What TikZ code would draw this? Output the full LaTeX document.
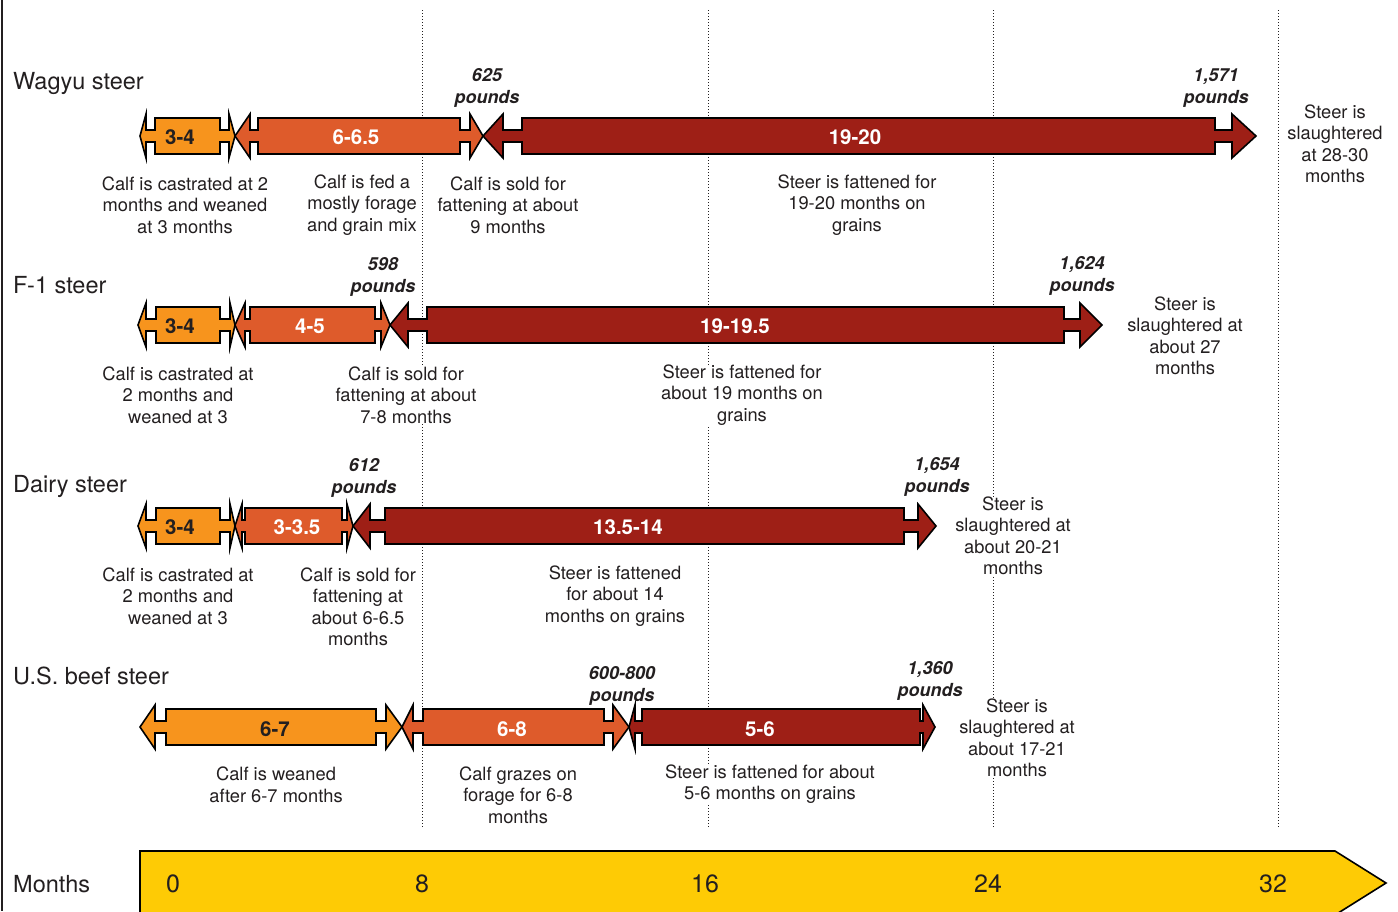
\documentclass[tikz,border=0pt]{standalone}
\usepackage{fontspec}
\setmainfont{TeX Gyre Heros}
\definecolor{ink}{HTML}{231F20}
\definecolor{calf}{HTML}{F7941D}
\definecolor{grow}{HTML}{DE5B2B}
\definecolor{feed}{HTML}{9E1F16}
\definecolor{sun}{HTML}{FECB05}
% one stage of a life line: tip, head base, body start, body end, head base, tip
\newcommand{\segarrow}[8]{%
  \draw[fill=#8, line width=1.6pt] (#2,#1) -- (#3,#1-22) -- (#3,#1-6) -- (#4,#1-6) -- (#4,#1-18) -- (#5,#1-18) -- (#5,#1-6) -- (#6,#1-6) -- (#6,#1-22) -- (#7,#1) -- (#6,#1+22) -- (#6,#1+6) -- (#5,#1+6) -- (#5,#1+18) -- (#4,#1+18) -- (#4,#1+6) -- (#3,#1+6) -- (#3,#1+22) -- cycle;}
\begin{document}
\begin{tikzpicture}[x=1pt,y=-1pt,
    desc/.style={align=center, inner sep=0pt, fill=white, text=ink, font=\fontsize{18.3}{21.5}\selectfont},
    wt/.style={align=center, inner sep=0pt, text=ink, font=\fontsize{18}{21.5}\selectfont\bfseries\itshape},
    breed/.style={anchor=west, inner sep=0pt, text=ink, font=\fontsize{23.5}{26}\selectfont},
    seglab/.style={inner sep=0pt, font=\fontsize{20.5}{22}\selectfont\bfseries},
    monthline/.style={dotted, line width=1pt, ink}]
    \useasboundingbox (0,0) rectangle (1398,911);
    \clip (0,0) rectangle (1398,911);

    \draw[line width=1.2pt, ink] (2,0) -- (2,911);
    \foreach \m in {422,708,993,1278}
        \draw[monthline] (\m,10) -- (\m,828);

    % Wagyu
    \node[breed] (wagyu) at (13,83) {Wagyu steer};
    \segarrow{136}{140}{146}{155}{220}{229}{235}{calf}
    \segarrow{136}{235}{250}{258}{460}{470}{483}{grow}
    \segarrow{136}{483}{503}{522}{1215}{1232}{1256}{feed}
    \node[seglab, text=ink] (w1) at (180,137) {3-4};
    \node[seglab, text=white] (w2) at (356,137) {6-6.5};
    \node[seglab, text=white] (w3) at (855,137) {19-20};
    \node[wt] (wkg1) at (487,88) {625\\pounds};
    \node[wt] (wkg2) at (1216,88) {1,571\\pounds};
    \node[desc] (wd1) at (185,205) {Calf is castrated at 2\\months and weaned\\at 3 months};
    \node[desc] (wd2) at (362,205) {Calf is fed a\\mostly forage\\and grain mix};
    \node[desc] (wd3) at (508,205) {Calf is sold for\\fattening at about\\9 months};
    \node[desc] (wd4) at (857,205) {Steer is fattened for\\19-20 months on\\grains};
    \node[desc] (wd5) at (1335,144) {Steer is\\slaughtered\\at 28-30\\months};

    % F-1
    \node[breed] (fone) at (13,285) {F-1 steer};
    \segarrow{325}{138}{146}{156}{220}{230}{235}{calf}
    \segarrow{325}{235}{245}{250}{375}{381}{390}{grow}
    \segarrow{325}{390}{408}{427}{1064}{1080}{1102}{feed}
    \node[seglab, text=ink] (f1) at (180,326) {3-4};
    \node[seglab, text=white] (f2) at (310,326) {4-5};
    \node[seglab, text=white] (f3) at (735,326) {19-19.5};
    \node[wt] (fkg1) at (383,277) {598\\pounds};
    \node[wt] (fkg2) at (1082,276) {1,624\\pounds};
    \node[desc] (fd1) at (178,395) {Calf is castrated at\\2 months and\\weaned at 3};
    \node[desc] (fd2) at (406,395) {Calf is sold for\\fattening at about\\7-8 months};
    \node[desc] (fd3) at (742,395) {Steer is fattened for\\about 19 months on\\grains};
    \node[desc] (fd4) at (1185,336) {Steer is\\slaughtered at\\about 27\\months};

    % Dairy
    \node[breed] (dairy) at (13,486) {Dairy steer};
    \segarrow{526}{138}{146}{156}{220}{230}{235}{calf}
    \segarrow{526}{235}{242}{245}{342}{347}{353}{grow}
    \segarrow{526}{353}{370}{385}{904}{918}{936}{feed}
    \node[seglab, text=ink] (d1) at (180,527) {3-4};
    \node[seglab, text=white] (d2) at (297,527) {3-3.5};
    \node[seglab, text=white] (d3) at (628,527) {13.5-14};
    \node[wt] (dkg1) at (364,478) {612\\pounds};
    \node[wt] (dkg2) at (937,477) {1,654\\pounds};
    \node[desc] (dd1) at (178,596) {Calf is castrated at\\2 months and\\weaned at 3};
    \node[desc] (dd2) at (358,607) {Calf is sold for\\fattening at\\about 6-6.5\\months};
    \node[desc] (dd3) at (615,596) {Steer is fattened\\for about 14\\months on grains};
    \node[desc] (dd4) at (1013,536) {Steer is\\slaughtered at\\about 20-21\\months};

    % U.S. beef
    \node[breed] (usbeef) at (13,676) {U.S. beef steer};
    \segarrow{727}{140}{155}{166}{376}{386}{402}{calf}
    \segarrow{727}{402}{413}{423}{604}{613}{629}{grow}
    \segarrow{727}{629}{635}{642}{920}{923}{935}{feed}
    \node[seglab, text=ink] (u1) at (275,729) {6-7};
    \node[seglab, text=white] (u2) at (512,729) {6-8};
    \node[seglab, text=white] (u3) at (760,729) {5-6};
    \node[wt] (ukg1) at (622,686) {600-800\\pounds};
    \node[wt] (ukg2) at (930,681) {1,360\\pounds};
    \node[desc] (ud1) at (276,785) {Calf is weaned\\after 6-7 months};
    \node[desc] (ud2) at (518,795) {Calf grazes on\\forage for 6-8\\months};
    \node[desc] (ud3) at (770,784) {Steer is fattened for about\\5-6 months on grains};
    \node[desc] (ud4) at (1017,738) {Steer is\\slaughtered at\\about 17-21\\months};

    % months axis
    \node[breed] (months) at (13,884) {Months};
    \draw[fill=sun, line width=1.6pt] (140,915) -- (140,851) -- (1335,851) -- (1386,883) -- (1335,915);
    \node[inner sep=0pt, text=ink, font=\fontsize{25}{27}\selectfont] (m0) at (173,884) {0};
    \node[inner sep=0pt, text=ink, font=\fontsize{25}{27}\selectfont] (m8) at (422,884) {8};
    \node[inner sep=0pt, text=ink, font=\fontsize{25}{27}\selectfont] (m16) at (705,884) {16};
    \node[inner sep=0pt, text=ink, font=\fontsize{25}{27}\selectfont] (m24) at (988,884) {24};
    \node[inner sep=0pt, text=ink, font=\fontsize{25}{27}\selectfont] (m32) at (1273,884) {32};
\end{tikzpicture}
\end{document}
